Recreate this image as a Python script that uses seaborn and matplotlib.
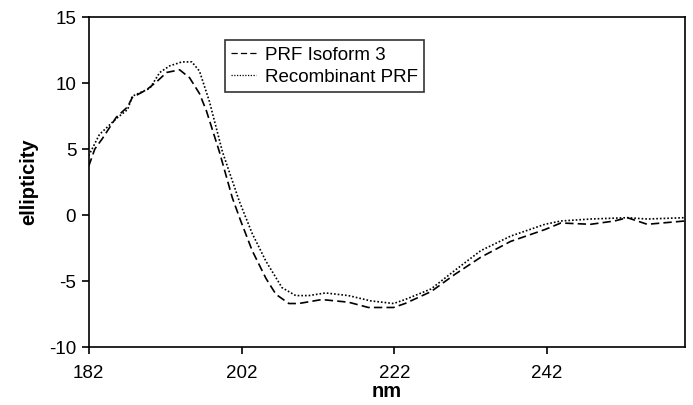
import numpy as np
import pandas as pd
import matplotlib
matplotlib.use('Agg')
import matplotlib.pyplot as plt
import seaborn as sns

# CD spectra
iso_nm = [182, 182.8, 183.8, 185.6, 187.1, 187.7, 189.6, 190.9, 192.2, 193.9, 195.2, 196.5,
          197.4, 199.1, 200.8, 201.9, 203.4, 205.2, 206.5, 208.2, 209.5, 212.5, 216.0, 218.6,
          221.9, 223.4, 226.8, 229.9, 233.3, 237.2, 241.7, 243.8, 247.7, 250.8, 252.5, 255.1, 260]
iso_ell = [3.7, 5.0, 5.8, 7.4, 8.2, 8.9, 9.5, 10.1, 10.8, 11.0, 10.4, 9.2,
           7.9, 4.8, 1.3, -0.45, -2.7, -4.8, -6.0, -6.7, -6.7, -6.4, -6.6, -7.0,
           -7.0, -6.7, -5.8, -4.5, -3.2, -2.0, -1.1, -0.6, -0.7, -0.45, -0.2, -0.7, -0.45]

rec_nm = [182, 183.4, 185.6, 187.1, 187.7, 190.0, 191.3, 192.6, 194.2, 195.5, 196.5, 197.8,
          199.5, 201.7, 203.4, 205.2, 207.3, 209.1, 210.8, 213.0, 216.0, 218.9, 221.9, 223.4,
          226.8, 229.9, 233.3, 237.2, 241.7, 243.8, 247.7, 252.5, 255.1, 260]
rec_ell = [4.5, 6.1, 7.3, 8.0, 9.0, 9.6, 10.8, 11.3, 11.6, 11.6, 10.9, 8.6,
           4.8, 1.06, -1.4, -3.5, -5.5, -6.1, -6.1, -5.9, -6.1, -6.5, -6.7, -6.4,
           -5.6, -4.2, -2.7, -1.6, -0.7, -0.45, -0.3, -0.2, -0.3, -0.2]

labels = ['PRF Isoform 3', 'Recombinant PRF']
x_ticks = [182, 202, 222, 242]
y_ticks = [-10, -5, 0, 5, 10, 15]

df = pd.concat([
    pd.DataFrame({'nm': iso_nm, 'ellipticity': iso_ell, 'sample': labels[0]}),
    pd.DataFrame({'nm': rec_nm, 'ellipticity': rec_ell, 'sample': labels[1]}),
])

sns.set_style('ticks')
plt.rcParams['font.family'] = ['Liberation Sans', 'DejaVu Sans']
plt.rcParams['axes.unicode_minus'] = False
plt.rcParams['text.color'] = 'black'
plt.rcParams['axes.labelcolor'] = 'black'

fig = plt.figure(figsize=(6.93, 4.05), dpi=100)
ax = fig.add_axes([0.128, 0.143, 0.86, 0.815])

sns.lineplot(data=df, x='nm', y='ellipticity', style='sample', hue='sample',
             palette=['black', 'black'], dashes=[(5, 2.5), (1, 1.2)],
             linewidth=1.2, estimator=None, sort=False, ax=ax)

ax.set_xlim(182, 260)
ax.set_ylim(-10, 15)
ax.set_xticks(x_ticks)
ax.set_yticks(y_ticks)
ax.tick_params(direction='out', length=5, width=1.2, labelsize=13.5, colors='black', pad=4)
ax.tick_params(axis='x', pad=8)
for s in ax.spines.values():
    s.set_visible(True)
    s.set_linewidth(1.2)
    s.set_color('black')

ax.set_xlabel('nm', fontsize=14.5, fontweight='bold', labelpad=0)
ax.set_ylabel('ellipticity', fontsize=14.5, fontweight='bold', labelpad=8)

leg = ax.legend(loc='upper left', bbox_to_anchor=(0.228, 0.93), borderaxespad=0,
                fontsize=13.5, frameon=True, fancybox=False, handlelength=1.3,
                handletextpad=0.5, borderpad=0.35, labelspacing=0.25)
leg.get_frame().set_edgecolor('black')
leg.get_frame().set_linewidth(1.2)
for line in leg.get_lines():
    line.set_linewidth(0.9)

fig.savefig('out.png', dpi=100)
